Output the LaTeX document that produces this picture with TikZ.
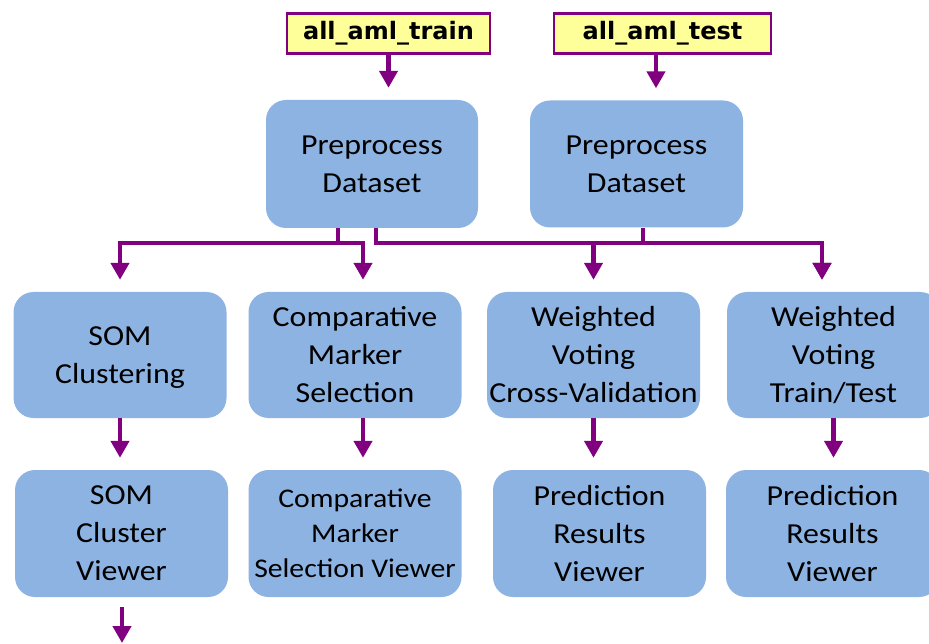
\documentclass[tikz,border=0pt]{standalone}
\usepackage{fontspec}
\setmainfont{Carlito}[FakeStretch=1.1]
\newfontfamily\datafont{DejaVu Sans}
\usetikzlibrary{arrows.meta,positioning,calc}
\definecolor{boxBlue}{RGB}{141,179,226}
\definecolor{flowPurple}{RGB}{128,0,128}
\definecolor{dataYellow}{RGB}{255,255,153}

\begin{document}
\begin{tikzpicture}[x=1pt,y=-1pt,
    procbox/.style={fill=boxBlue, rounded corners=20pt, inner sep=0pt,
      minimum width=213pt, minimum height=127pt, align=center,
      font=\fontsize{29}{38}\selectfont},
    databox/.style={fill=dataYellow, draw=flowPurple, line width=2.5pt,
      minimum height=40pt, font=\datafont\bfseries\fontsize{24}{28}\selectfont},
    flow/.style={flowPurple, line width=4.5pt,
      -{Triangle[width=18pt,length=17pt]}, shorten >=12pt}]
    \useasboundingbox (0,0) rectangle (929,644);
    \clip (0,0) rectangle (929,644);
    % Input datasets
    \node[databox, minimum width=203pt] (train) at (388.5,33.5) {all\_aml\_train};
    \node[databox, minimum width=217pt] (test) at (662.5,33.5) {all\_aml\_test};
    % Preprocessing
    \node[procbox, minimum width=212pt, minimum height=128pt] (ppL) at (372,164) {Preprocess\\Dataset};
    \node[procbox] (ppR) at (636.5,164) {Preprocess\\Dataset};
    % Analyses
    \node[procbox, minimum height=126pt, text depth=0pt] (som) at (120,355) {SOM\\Clustering};
    \node[procbox, minimum height=126pt] (cms) at (355,355) {Comparative\\Marker\\Selection};
    \node[procbox, minimum height=126pt] (wvcv) at (593.5,355) {Weighted\\Voting\\Cross-Validation};
    \node[procbox, minimum height=126pt] (wvtt) at (833.5,355) {Weighted\\Voting\\Train/Test};
    % Viewers
    \node[procbox] (somv) at (121.5,533.5) {SOM\\Cluster\\Viewer};
    \node[procbox, font=\fontsize{27}{35}\selectfont] (cmsv) at (355,533.5) {Comparative\\Marker\\Selection Viewer};
    \node[procbox] (prv1) at (599.5,533.5) {Prediction\\Results\\Viewer};
    \node[procbox] (prv2) at (832.5,533.5) {Prediction\\Results\\Viewer};
    % Junctions and drop lines
    \coordinate (jA) at (338,243);
    \coordinate (jB) at (376,243);
    \coordinate (jC) at (643,243);
    \coordinate (xCMS) at (363,0);
    \coordinate (xWVTT) at (822,0);
    \coordinate (out) at (122,655);
    % Input to preprocessing
    \draw[flow] (train.south) -- (train.south |- ppL.north);
    \draw[flow] ($(test.south)+(-6.5,0)$) -- ($(test.south |- ppR.north)+(-6.5,0)$);
    % Fan-out to analyses
    \draw[flow] (ppL.south -| jA) -- (jA) -| (som.north);
    \draw[flow] (ppL.south -| jA) -- (jA) -| (cms.north -| xCMS);
    \draw[flow] (ppL.south -| jB) -- (jB) -| (wvcv.north);
    \draw[flow] (ppL.south -| jB) -- (jB) -| (wvtt.north -| xWVTT);
    \draw[flow] (ppR.south -| jC) -- (jC) -| (wvtt.north -| xWVTT);
    % Analyses to viewers
    \draw[flow] (som.south) -- (som.south |- somv.north);
    \draw[flow] (cms.south -| xCMS) -- (cmsv.north -| xCMS);
    \draw[flow] (wvcv.south) -- (wvcv.south |- prv1.north);
    \draw[flow] (wvtt.south) -- (wvtt.south |- prv2.north);
    % Output
    \draw[flow, shorten <=10pt] (somv.south -| out) -- (out);
\end{tikzpicture}
\end{document}
